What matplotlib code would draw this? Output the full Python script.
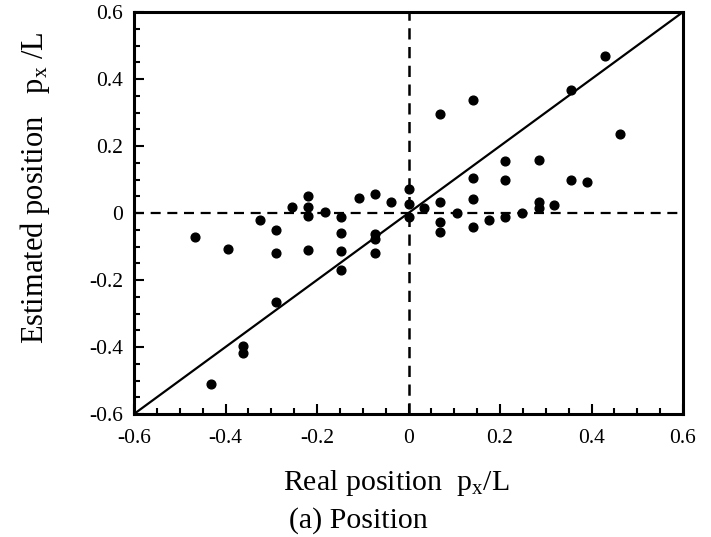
import matplotlib
matplotlib.use('Agg')
import matplotlib.pyplot as plt
from matplotlib.ticker import MultipleLocator

plt.rcParams['font.family'] = ['Liberation Serif', 'DejaVu Serif']
plt.rcParams['mathtext.fontset'] = 'custom'
plt.rcParams['mathtext.rm'] = 'Liberation Serif'
plt.rcParams['mathtext.it'] = 'Liberation Serif:italic'

# real position (p_x / L) of each sample and the estimated one
real_pos = [-0.467, -0.432, -0.394, -0.361, -0.361, -0.324,
            -0.289, -0.289, -0.289, -0.254,
            -0.219, -0.219, -0.219, -0.219, -0.182,
            -0.147, -0.147, -0.147, -0.147, -0.109,
            -0.074, -0.074, -0.074, -0.074, -0.038,
            0.0, 0.0, 0.0, 0.033,
            0.069, 0.069, 0.069, 0.069, 0.105,
            0.142, 0.142, 0.142, 0.142, 0.175,
            0.212, 0.212, 0.212, 0.248,
            0.285, 0.285, 0.285, 0.318,
            0.355, 0.355, 0.391, 0.429, 0.463]
est_pos = [-0.071, -0.509, -0.106, -0.398, -0.419, -0.021,
           -0.051, -0.119, -0.266, 0.019,
           0.051, 0.017, -0.009, -0.111, 0.003,
           -0.011, -0.059, -0.113, -0.170, 0.045,
           0.057, -0.063, -0.078, -0.119, 0.034,
           0.073, 0.027, -0.013, 0.014,
           0.296, 0.034, -0.026, -0.056, -0.001,
           0.338, 0.104, 0.041, -0.041, -0.021,
           0.156, 0.099, -0.011, -0.001,
           0.159, 0.034, 0.014, 0.024,
           0.366, 0.099, 0.092, 0.470, 0.236]

lims = [-0.6, 0.6]
ticks = [-0.6, -0.4, -0.2, 0, 0.2, 0.4, 0.6]
tick_labels = ['-0.6', '-0.4', '-0.2', '0', '0.2', '0.4', '0.6']

fig = plt.figure(figsize=(7.11, 5.37), dpi=100)
ax = fig.add_axes([134 / 711, 1 - 414 / 537, 549 / 711, 402 / 537])

# ideal estimate y = x and the two zero lines
ax.plot(lims, lims, color='black', lw=1.6, zorder=2)
ax.axhline(0, color='black', lw=1.6, ls=(0, (4.5, 3)), zorder=1)
ax.axvline(0, color='black', lw=1.8, ls=(0, (4.5, 3)), zorder=1)

ax.plot(real_pos, est_pos, 'o', color='black', ms=6.3, zorder=3)

ax.set_xlim(lims)
ax.set_ylim(lims)
ax.set_xticks(ticks)
ax.set_xticklabels(tick_labels)
ax.set_yticks(ticks)
ax.set_yticklabels(tick_labels)
ax.xaxis.set_minor_locator(MultipleLocator(0.05))
ax.yaxis.set_minor_locator(MultipleLocator(0.05))
ax.tick_params(which='both', direction='in', top=False, right=False,
               labelsize=15.5, width=1.5)
ax.tick_params(which='major', length=7)
ax.tick_params(which='minor', length=4)
ax.tick_params(axis='x', pad=11)
ax.tick_params(axis='y', pad=8)
for s in ax.spines.values():
    s.set_linewidth(2.2)

ax.set_xlabel('Real position  p$_{\\mathregular{x}}$/L', fontsize=21.5)
ax.xaxis.set_label_coords(0.477, -0.135)
ax.set_ylabel('Estimated position   p$_{\\mathregular{x}}$ /L', fontsize=22)
ax.yaxis.set_label_coords(-0.15, 0.562)

fig.text(358 / 711, 1 - 521 / 537, '(a) Position', fontsize=21.5,
         ha='center', va='center')

fig.savefig('out.png', dpi=100)
